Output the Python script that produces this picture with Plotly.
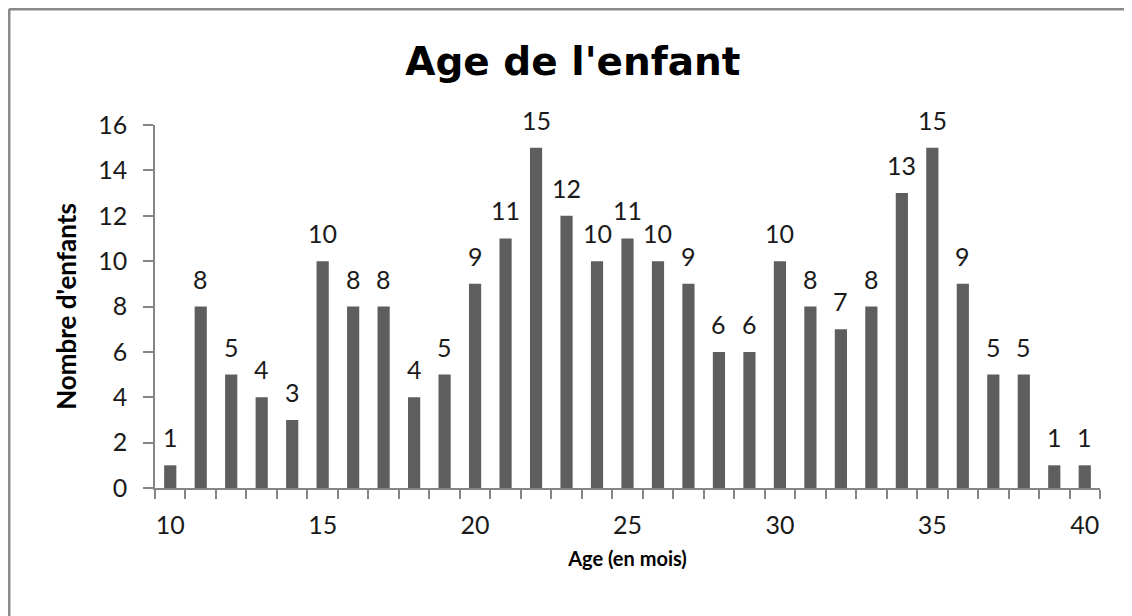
import plotly.graph_objects as go

ages = list(range(10, 41))
counts = [1, 8, 5, 4, 3, 10, 8, 8, 4, 5, 9, 11, 15, 12, 10, 11, 10, 9, 6, 6,
          10, 8, 7, 8, 13, 15, 9, 5, 5, 1, 1]
x_ticks = [10, 15, 20, 25, 30, 35, 40]
y_ticks = [0, 2, 4, 6, 8, 10, 12, 14, 16]

FONT = "Lato, 'Open Sans', sans-serif"
TITLE_FONT = "'DejaVu Sans', sans-serif"
AXIS_GREY = "#868686"
BAR_GREY = "#5e5e5e"

# page has an 8px body margin, so the plot area is offset accordingly
W, H = 1132, 616
L, R, T, B = 147, 40, 117, 136
pw, ph = W - L - R, H - T - B

fig = go.Figure()
fig.add_trace(go.Bar(
    x=ages, y=counts, width=0.4,
    marker=dict(color=BAR_GREY, line=dict(width=0)),
))

# value labels sit a bit higher above the bars than plotly's outside text
for a, c in zip(ages, counts):
    fig.add_annotation(x=a, y=c, text=str(c), showarrow=False,
                       yanchor="bottom", yshift=11,
                       font=dict(family=FONT, size=25, color="#1a1a1a"))

# partial frame (left + top edge) around the chart
bx = (1 - L) / pw
by = (H - B - 1) / ph
fig.add_shape(type="line", xref="paper", yref="paper",
              x0=bx, x1=bx, y0=-B / ph - 0.01, y1=by,
              line=dict(color="#8a8a8a", width=3))
fig.add_shape(type="line", xref="paper", yref="paper",
              x0=bx, x1=(W - L) / pw + 0.01, y0=by, y1=by,
              line=dict(color="#8a8a8a", width=3))

fig.update_layout(
    width=W, height=H,
    margin=dict(l=L, r=R, t=T, b=B),
    paper_bgcolor="white", plot_bgcolor="white",
    showlegend=False,
    title=dict(text="<b>Age de l'enfant</b>", x=0.499, xref="container",
               y=1 - 53 / H, yref="container", yanchor="middle",
               font=dict(family=TITLE_FONT, size=39, color="black")),
    xaxis=dict(
        range=[9.5, 40.5], tickvals=x_ticks, ticks="", showgrid=False,
        zeroline=False, showline=True, linecolor=AXIS_GREY, linewidth=1.5,
        ticklabelstandoff=14,
        tickfont=dict(family=FONT, size=25, color="#1a1a1a"),
        minor=dict(tick0=9.5, dtick=1, ticks="outside", ticklen=9,
                   tickcolor=AXIS_GREY, tickwidth=1.5, showgrid=False),
        title=dict(text="<b>Age (en mois)</b>", standoff=14,
                   font=dict(family=FONT, size=20, color="black")),
    ),
    yaxis=dict(
        range=[0, 16], tickvals=y_ticks, ticks="outside", ticklen=10,
        tickcolor=AXIS_GREY, tickwidth=1.5, showgrid=False, zeroline=False,
        showline=True, linecolor=AXIS_GREY, linewidth=1.5,
        ticklabelstandoff=11,
        tickfont=dict(family=FONT, size=25, color="#1a1a1a"),
        title=dict(text="<b>Nombre d'enfants</b>", standoff=14,
                   font=dict(family=FONT, size=26, color="black")),
    ),
)

fig.write_html("out.html")
